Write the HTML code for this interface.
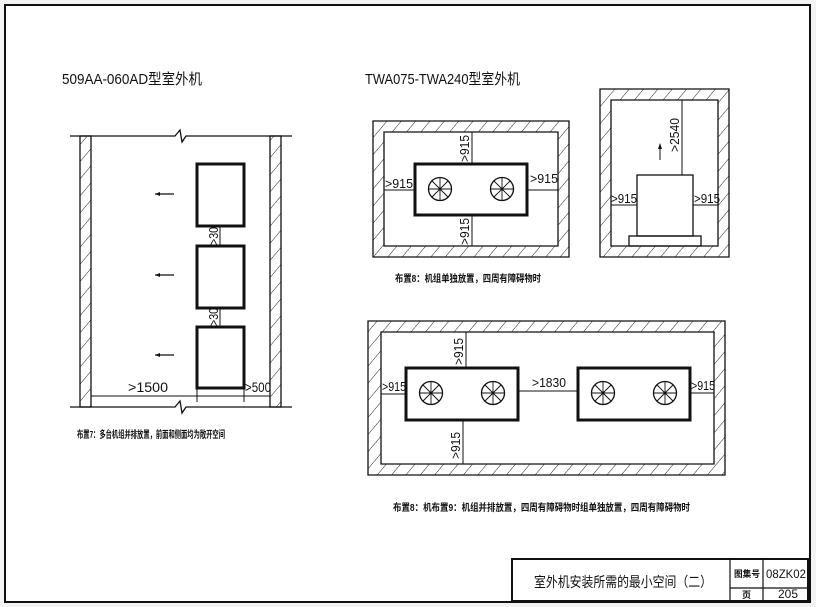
<!DOCTYPE html>
<html><head><meta charset="utf-8"><style>
html,body{margin:0;padding:0;background:#fff;width:816px;height:607px;overflow:hidden}
svg{display:block}
text{font-family:"Liberation Sans","Noto Sans CJK SC",sans-serif;fill:#111}
.b{font-weight:bold;font-family:"Liberation Sans","Noto Sans CJK SC",sans-serif}
</style></head><body>
<svg width="816" height="607" viewBox="0 0 816 607" xmlns="http://www.w3.org/2000/svg">
<defs>
<pattern id="h" patternUnits="userSpaceOnUse" width="11" height="11" patternTransform="rotate(40)">
<line x1="0" y1="0" x2="0" y2="11" stroke="#222" stroke-width="1"/>
</pattern>
<g id="fan"><circle r="11.5" fill="none" stroke="#111" stroke-width="1.3"/>
<path d="M-11.5 0H11.5M0 -11.5V11.5M-8 -8L8 8M-8 8L8 -8" stroke="#111" stroke-width="0.9"/><circle r="1.5" fill="#111"/></g>
</defs>
<rect x="0" y="0" width="816" height="607" fill="#f3f3f3"/>
<rect x="5" y="5" width="805" height="597" fill="#fff" stroke="#111" stroke-width="2"/>

<!-- titles -->
<text x="62" y="84" font-size="15" textLength="140" lengthAdjust="spacingAndGlyphs">509AA-060AD型室外机</text>
<text x="365" y="84" font-size="15" textLength="155" lengthAdjust="spacingAndGlyphs">TWA075-TWA240型室外机</text>

<!-- left diagram -->
<g stroke="#111" fill="none" stroke-width="1.3">
<path d="M70 136H175L180 130L182 142L186 136H292"/>
<path d="M70 407H175L180 401L182 413L186 407H292"/>
<rect x="80" y="136" width="11" height="271" fill="url(#h)"/>
<rect x="270" y="136" width="11" height="271" fill="url(#h)"/>
<rect x="197" y="164" width="47" height="62" stroke-width="3"/>
<rect x="197" y="246" width="47" height="62" stroke-width="3"/>
<rect x="197" y="327" width="47" height="61" stroke-width="3"/>
<path d="M220 226V246M220 308V327" stroke-width="1"/>
<path d="M91 396H270M197 388V402M244 388V402" stroke-width="1"/>
<path d="M155 194H174M155 275H174M155 355H174" stroke-width="1.2"/>
</g>
<path d="M155 194l5 -2v4zM155 275l5 -2v4zM155 355l5 -2v4z" fill="#111"/>
<text x="0" y="0" font-size="13" textLength="18" lengthAdjust="spacingAndGlyphs" transform="translate(218 245) rotate(-90)">&gt;30</text>
<text x="0" y="0" font-size="13" textLength="18" lengthAdjust="spacingAndGlyphs" transform="translate(218 326) rotate(-90)">&gt;30</text>
<text x="128" y="392" font-size="14" textLength="40" lengthAdjust="spacingAndGlyphs">&gt;1500</text>
<text x="245" y="392" font-size="14" textLength="26" lengthAdjust="spacingAndGlyphs">&gt;500</text>
<text x="77" y="438" font-size="10" class="b" textLength="148" lengthAdjust="spacingAndGlyphs">布置7：多台机组并排放置，前面和侧面均为敞开空间</text>

<!-- box A -->
<path d="M373 121H569V257H373ZM384 132V246H558V132Z" fill="url(#h)" fill-rule="evenodd" stroke="#111" stroke-width="1.3"/>
<rect x="415" y="164" width="112" height="51" fill="none" stroke="#111" stroke-width="3"/>
<use href="#fan" x="440" y="189"/><use href="#fan" x="502" y="189"/>
<path d="M472 132V164M472 215V246M384 190H415M527 190H558" stroke="#111" stroke-width="1"/>
<text x="0" y="0" font-size="13" textLength="27" lengthAdjust="spacingAndGlyphs" transform="translate(469 162) rotate(-90)">&gt;915</text>
<text x="0" y="0" font-size="13" textLength="27" lengthAdjust="spacingAndGlyphs" transform="translate(469 245) rotate(-90)">&gt;915</text>
<text x="385" y="188" font-size="13" textLength="28" lengthAdjust="spacingAndGlyphs">&gt;915</text>
<text x="530" y="183" font-size="13" textLength="28" lengthAdjust="spacingAndGlyphs">&gt;915</text>

<!-- box B -->
<path d="M600 89H729V257H600ZM611 100V246H718V100Z" fill="url(#h)" fill-rule="evenodd" stroke="#111" stroke-width="1.3"/>
<rect x="637" y="175" width="56" height="61" fill="none" stroke="#111" stroke-width="1.3"/>
<rect x="629" y="236" width="72" height="10" fill="none" stroke="#111" stroke-width="1.3"/>
<path d="M682 100V175M611 205H637M693 205H718M660 160V146" stroke="#111" stroke-width="1"/>
<path d="M660 143l-2 6h4z" fill="#111"/>
<text x="0" y="0" font-size="13" textLength="34" lengthAdjust="spacingAndGlyphs" transform="translate(679 152) rotate(-90)">&gt;2540</text>
<text x="611" y="203" font-size="13" textLength="26" lengthAdjust="spacingAndGlyphs">&gt;915</text>
<text x="694" y="203" font-size="13" textLength="26" lengthAdjust="spacingAndGlyphs">&gt;915</text>
<text x="395" y="282" font-size="10" class="b" textLength="146" lengthAdjust="spacingAndGlyphs">布置8：机组单独放置，四周有障碍物时</text>

<!-- box C -->
<path d="M368 321H725V475H368ZM381 332V464H714V332Z" fill="url(#h)" fill-rule="evenodd" stroke="#111" stroke-width="1.3"/>
<rect x="406" y="368" width="112" height="52" fill="none" stroke="#111" stroke-width="3"/>
<rect x="578" y="368" width="112" height="52" fill="none" stroke="#111" stroke-width="3"/>
<use href="#fan" x="431" y="393"/><use href="#fan" x="493" y="393"/>
<use href="#fan" x="603" y="393"/><use href="#fan" x="665" y="393"/>
<path d="M466 332V368M463 420V464M381 394H406M518 391H578M690 393H714" stroke="#111" stroke-width="1"/>
<text x="0" y="0" font-size="13" textLength="27" lengthAdjust="spacingAndGlyphs" transform="translate(463 365) rotate(-90)">&gt;915</text>
<text x="0" y="0" font-size="13" textLength="27" lengthAdjust="spacingAndGlyphs" transform="translate(460 459) rotate(-90)">&gt;915</text>
<text x="382" y="391" font-size="13" textLength="24" lengthAdjust="spacingAndGlyphs">&gt;915</text>
<text x="532" y="387" font-size="13" textLength="34" lengthAdjust="spacingAndGlyphs">&gt;1830</text>
<text x="691" y="390" font-size="13" textLength="24" lengthAdjust="spacingAndGlyphs">&gt;915</text>
<text x="393" y="511" font-size="10" class="b" textLength="297" lengthAdjust="spacingAndGlyphs">布置8：机布置9：机组并排放置，四周有障碍物时组单独放置，四周有障碍物时</text>

<!-- title block -->
<g stroke="#111" fill="none">
<rect x="512" y="559" width="296" height="42" stroke-width="2"/>
<path d="M730 559V601M763 559V601M730 588H808" stroke-width="1.2"/>
</g>
<text x="534" y="587" font-size="14" textLength="178" lengthAdjust="spacingAndGlyphs">室外机安装所需的最小空间（二）</text>
<text x="734" y="577" font-size="9" class="b" textLength="26" lengthAdjust="spacingAndGlyphs">图集号</text>
<text x="766" y="578" font-size="12" textLength="40" lengthAdjust="spacingAndGlyphs">08ZK02</text>
<text x="742" y="598" font-size="9" class="b">页</text>
<text x="778" y="598" font-size="12" textLength="20" lengthAdjust="spacingAndGlyphs">205</text>
</svg>
</body></html>
